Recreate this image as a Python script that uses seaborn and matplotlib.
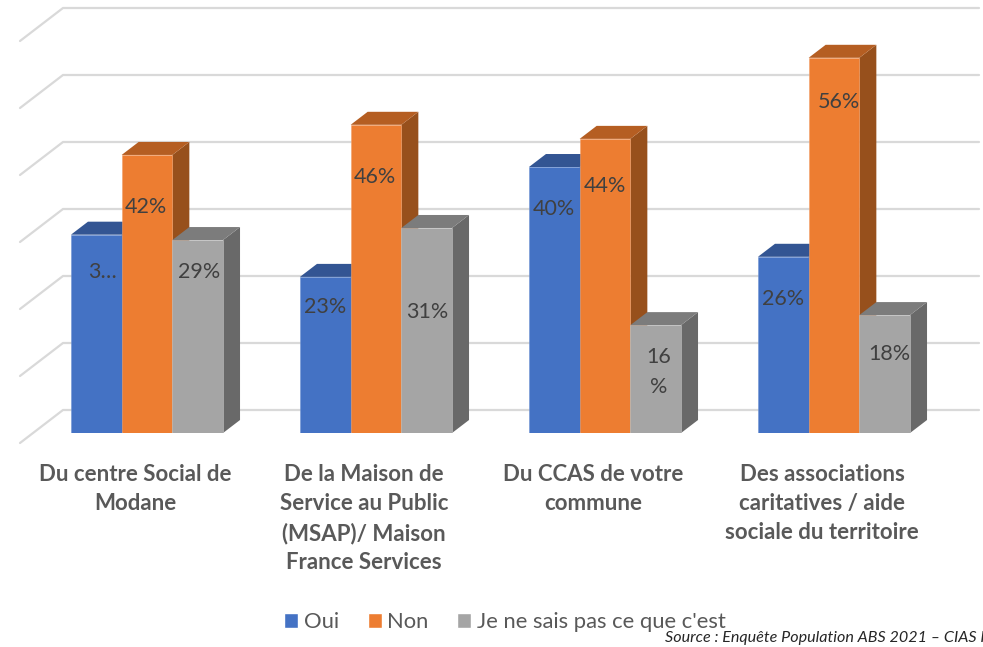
#!/usr/bin/env python3
import pandas as pd
import matplotlib
matplotlib.use('Agg')
import matplotlib.pyplot as plt
from matplotlib.patches import Polygon
from matplotlib.transforms import ScaledTranslation
import seaborn as sns

# Values
categories = ['Du centre Social de\nModane',
              'De la Maison de\nService au Public\n(MSAP)/ Maison\nFrance Services',
              'Du CCAS de votre\ncommune',
              'Des associations\ncaritatives / aide\nsociale du territoire']
series_names = ['Oui', 'Non', "Je ne sais pas ce que c'est"]
oui = [29.6, 23.3, 39.7, 26.3]
non = [41.5, 46, 43.9, 56]
ne_sais_pas = [28.8, 30.6, 16.1, 17.6]
grid_ticks = [0, 10, 20, 30, 40, 50, 60]

# Labels as they are shown (Excel truncated/wrapped two of them)
oui_labels = ['3…', '23%', '40%', '26%']
non_labels = ['42%', '46%', '44%', '56%']
nsp_labels = ['29%', '31%', '16\n%', '18%']

# Colours
front_colors = ['#4472C4', '#ED7D31', '#A5A5A5']
top_colors = ['#335593', '#B55E22', '#7C7C7C']
side_colors = ['#2A4678', '#97501C', '#696969']
edge_colors = ['#6F93D3', '#F2A06A', '#C0C0C0']

# Geometry in pixels
W, H = 983, 647
DPI = 100
BASE_Y = 433
PX_X = 229.0      # pixels per category
PX_Y = 6.7        # pixels per percent
X0 = 147.0        # pixel of first category
DEPTH_X, DEPTH_Y = 17, 13

# label placement (pixels: x shift, drop below bar top)
label_dx = [[6, 0, 0, 0], [-1, -1, 0, 5], [1, 1, 3, 5]]
label_drop = [[37, 30, 42, 42], [52, 52, 47, 44], [32, 84, 47, 39]]

df = pd.DataFrame({
    'category': categories * 3,
    'serie': [series_names[0]] * 4 + [series_names[1]] * 4 + [series_names[2]] * 4,
    'value': oui + non + ne_sais_pas,
})

sns.set_theme(style='white')
plt.rcParams['font.family'] = ['Lato', 'DejaVu Sans']

fig = plt.figure(figsize=(W / DPI, H / DPI), dpi=DPI)
ax = fig.add_axes([0, (H - BASE_Y) / H, 1, BASE_Y / H])

sns.barplot(data=df, x='category', y='value', hue='serie', hue_order=series_names,
            palette=front_colors, width=0.664, gap=0, errorbar=None, ax=ax, saturation=1)

ax.set_xlim((0 - X0) / PX_X, (W - X0) / PX_X)
ax.set_ylim(0, BASE_Y / PX_Y)
ax.set_xlabel('')
ax.set_ylabel('')
ax.set_yticks([])
sns.despine(ax=ax, left=True, bottom=True, top=True, right=True)

# Back wall and left wall gridlines
wall_left = (63 - X0) / PX_X
wall_end = (20 - X0) / PX_X
wall_right = (979 - X0) / PX_X
for g in grid_ticks:
    y_back = g + 23 / PX_Y
    ax.plot([wall_end, wall_left, wall_right], [y_back - 33 / PX_Y, y_back, y_back],
            color='#D9D9D9', lw=1.6, zorder=1, clip_on=False, solid_joinstyle='miter')

# Fake 3D: side and top faces from the bars seaborn drew
dx = DEPTH_X / PX_X
dy = DEPTH_Y / PX_Y
all_labels = [oui_labels, non_labels, nsp_labels]
for k, container in enumerate(ax.containers):
    for j, bar in enumerate(container):
        x0 = bar.get_x()
        x1 = x0 + bar.get_width()
        h = bar.get_height()
        bar.set_zorder(3 + k + 0.5)
        bar.set_edgecolor(edge_colors[k])
        bar.set_linewidth(0.4)
        ax.add_patch(Polygon([(x1, 0), (x1 + dx, dy), (x1 + dx, h + dy), (x1, h)],
                             closed=True, facecolor=side_colors[k], edgecolor='none',
                             zorder=3 + k, clip_on=False))
        ax.add_patch(Polygon([(x0, h), (x0 + dx, h + dy), (x1 + dx, h + dy), (x1, h)],
                             closed=True, facecolor=top_colors[k], edgecolor='none',
                             zorder=3 + k, clip_on=False))
        ax.text((x0 + x1) / 2 + label_dx[k][j] / PX_X, h - label_drop[k][j] / PX_Y,
                all_labels[k][j], ha='center', va='center', fontsize=15.5,
                color='#404040', zorder=10, linespacing=1.65)

# Category labels
ax.tick_params(axis='x', length=0, pad=22)
shift = ScaledTranslation(-12 / DPI, 0, fig.dpi_scale_trans)
for lab in ax.get_xticklabels():
    lab.set_fontsize(16)
    lab.set_fontweight('bold')
    lab.set_color('#595959')
    lab.set_linespacing(1.48)
    lab.set_transform(lab.get_transform() + shift)

# Legend
handles, labels = ax.get_legend_handles_labels()
leg = fig.legend(handles, labels, loc='center', bbox_to_anchor=(505 / W, 1 - 622 / H), ncol=3,
                 frameon=False, fontsize=15.8, handlelength=0.65, handleheight=0.65,
                 handletextpad=0.25, columnspacing=1.3, labelcolor='#595959', borderpad=0)
if ax.get_legend():
    ax.get_legend().remove()

fig.text(665 / W, 1 - 638 / H, 'Source : Enquête Population ABS 2021 – CIAS H', fontsize=11.6,
         style='italic', color='#262626', ha='left', va='center')

fig.savefig('out.png', dpi=DPI)
plt.close(fig)
